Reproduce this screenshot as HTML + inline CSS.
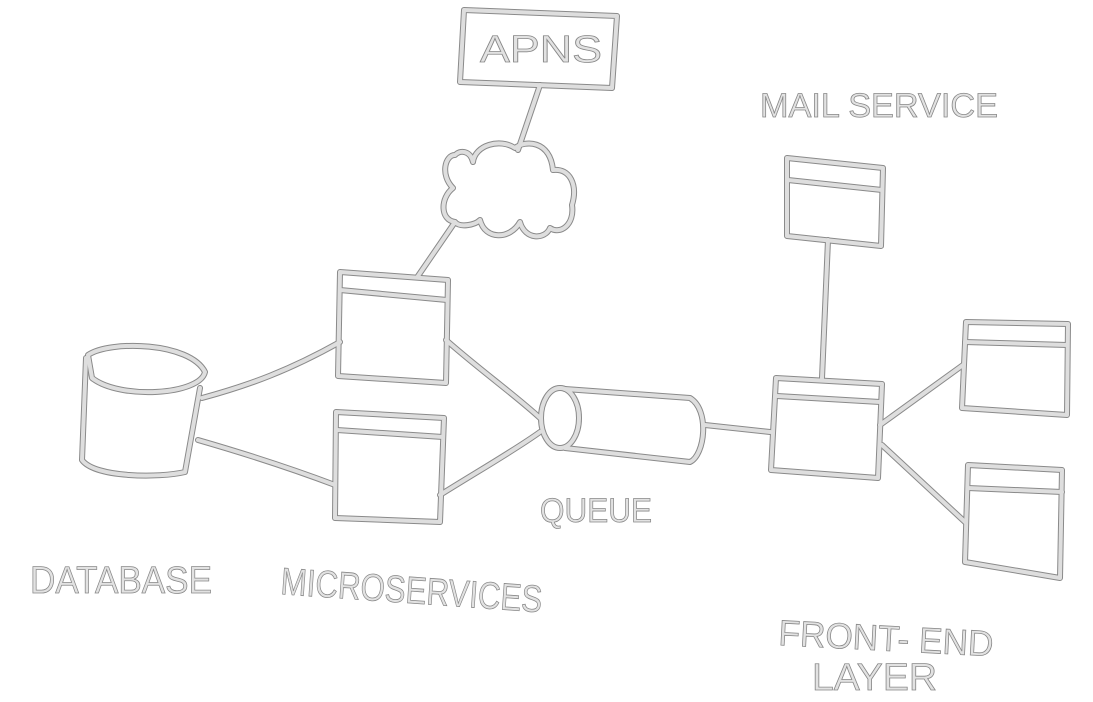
<!DOCTYPE html>
<html><head><meta charset="utf-8"><style>
html,body{margin:0;padding:0;background:#fff;width:1093px;height:702px;overflow:hidden}
svg{display:block}
.o{fill:none;stroke:#8a8a8a;stroke-width:6;stroke-linecap:round;stroke-linejoin:round}
.i{fill:none;stroke:#dedede;stroke-width:4;stroke-linecap:round;stroke-linejoin:round}
text{font-family:"Liberation Sans",sans-serif;fill:#e2e2e2;stroke:#888;stroke-width:0.8}
</style></head><body>
<svg width="1093" height="702" viewBox="0 0 1093 702">
<defs>
<g id="shapes">
<path d="M464,10 L617,16 L612,88 L460,82 Z"/>
<path d="M540,85 L518,150"/>
<path d="M453,188 C440,175 445,155 455,155 C460,150 470,150 473,162 C475,145 500,138 515,148 C525,140 550,140 553,170 C570,168 578,185 572,205 C575,225 560,235 550,228 C545,240 525,240 520,222 C510,240 485,240 480,220 C475,225 460,228 455,222 C440,220 440,198 453,188 Z"/>
<path d="M455,222 L418,276"/>
<path d="M340,272 L448,280 L446,383 L338,376 Z"/>
<path d="M340,290 L447,300"/>
<path d="M336,412 L444,418 L440,522 L335,518 Z"/>
<path d="M337,430 L443,437"/>
<path d="M88,355 C110,340 190,342 205,372 C200,395 120,400 92,378 Z"/>
<path d="M86,358 L82,460 C95,478 160,478 185,472 L200,388"/>
<path d="M202,398 C250,385 290,370 340,342"/>
<path d="M198,440 C250,455 290,468 335,485"/>
<path d="M446,340 C480,370 515,395 540,418"/>
<path d="M440,495 C480,470 515,450 540,432"/>
<ellipse cx="560" cy="418" rx="19" ry="30"/>
<path d="M565,389 L690,398 C710,410 705,455 690,462 L565,448"/>
<path d="M705,425 L770,432"/>
<path d="M776,378 L882,384 L878,478 L771,470 Z"/>
<path d="M777,396 L880,402"/>
<path d="M787,158 L883,168 L881,246 L787,236 Z"/>
<path d="M788,180 L882,190"/>
<path d="M828,240 L822,378"/>
<path d="M880,425 L963,365"/>
<path d="M882,445 L965,522"/>
<path d="M966,322 L1068,324 L1067,415 L962,408 Z"/>
<path d="M965,342 L1067,345"/>
<path d="M968,465 L1062,470 L1060,578 L965,562 Z"/>
<path d="M968,488 L1062,492"/>
</g>
</defs>
<use href="#shapes" class="o"/>
<use href="#shapes" class="i"/>
<text x="480" y="62" font-size="38" textLength="122" lengthAdjust="spacingAndGlyphs">APNS</text>
<text x="760" y="117" font-size="34" textLength="238" lengthAdjust="spacingAndGlyphs">MAIL SERVICE</text>
<text x="540" y="522" font-size="34" textLength="112" lengthAdjust="spacingAndGlyphs">QUEUE</text>
<text x="30" y="593" font-size="38" textLength="182" lengthAdjust="spacingAndGlyphs">DATABASE</text>
<text x="280" y="594" font-size="38" transform="rotate(4 280 594)" textLength="262" lengthAdjust="spacingAndGlyphs">MICROSERVICES</text>
<text x="778" y="645" font-size="36" transform="rotate(3 778 645)" textLength="215" lengthAdjust="spacingAndGlyphs">FRONT- END</text>
<text x="812" y="690" font-size="38" textLength="125" lengthAdjust="spacingAndGlyphs">LAYER</text>
</svg>
</body></html>
